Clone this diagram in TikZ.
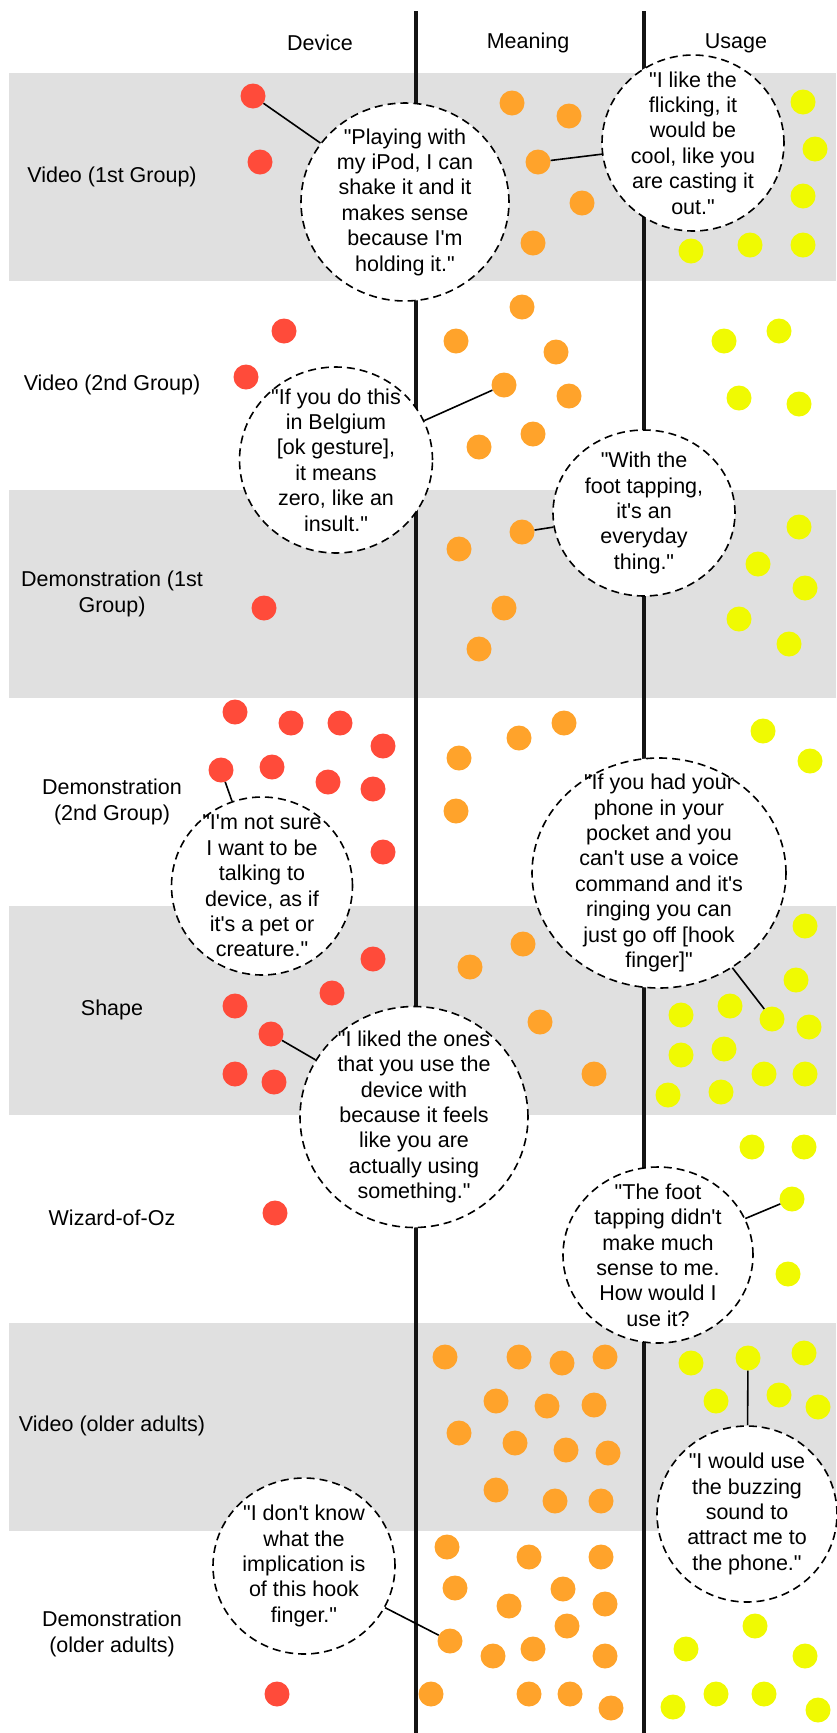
\documentclass[tikz,border=0pt]{standalone}
\usepackage{fontspec}
\usepackage{tikz}
\usetikzlibrary{shapes.geometric}
\newfontfamily\helv{Liberation Sans}
\definecolor{dotred}{HTML}{FF4B3A}
\definecolor{dotorange}{HTML}{FFA32B}
\definecolor{dotyellow}{HTML}{F0FA02}
\definecolor{bandgray}{HTML}{E0E0E0}
\tikzset{
    txt/.style={font=\helv\fontsize{21.5}{25.4}\selectfont, align=center, inner sep=0pt},
    answer/.style={circle, minimum size=25pt, inner sep=0pt, fill=#1},
    bubble/.style={ellipse, draw, fill=white, dash pattern=on 8pt off 5pt, line width=1.6pt, inner sep=0pt},
    link/.style={line width=1.6pt},
    divider/.style={line width=4.5pt, draw=black!92}
}
\newcommand{\quotebubble}[6] {
	\node[bubble, minimum width=#4pt, minimum height=#5pt] (#1) at (#2,#3) {};
	\node[txt] (#1-text) at (#1) {#6};
}

\begin{document}
\begin{tikzpicture}[x=1pt, y=-1pt]
		\useasboundingbox (0,0) rectangle (836,1733);

		% Shaded rows
		\foreach \i in {0,2,4,6}
			\fill[bandgray] (9,73+\i*208.3) rectangle (836,281.3+\i*208.3);

		% Column headings and rules
		\node[txt] (device) at (320,43) {Device};
		\node[txt] (meaning) at (528,43) {Meaning};
		\node[txt] (usage) at (736,43) {Usage};
		\draw[divider] (416,11) -- (416,1733);
		\draw[divider] (644,11) -- (644,1733);

		% Row labels
		\node[txt] (row1) at (112,177) {Video (1st Group)};
		\node[txt] (row2) at (112,385) {Video (2nd Group)};
		\node[txt] (row3) at (112,594) {Demonstration (1st\\Group)};
		\node[txt] (row4) at (112,802) {Demonstration\\(2nd Group)};
		\node[txt] (row5) at (112,1010) {Shape};
		\node[txt] (row6) at (112,1218) {Wizard-of-Oz};
		\node[txt] (row7) at (112,1426) {Video (older adults)};
		\node[txt] (row8) at (112,1634) {Demonstration\\(older adults)};

		% Row 1
		\foreach \x/\y [count=\n] in {253/96, 260/162}
			\node[answer=dotred] (red1-\n) at (\x,\y) {};
		\foreach \x/\y [count=\n] in {512/103, 569/116, 538/162, 582/203, 533/243}
			\node[answer=dotorange] (orange1-\n) at (\x,\y) {};
		\foreach \x/\y [count=\n] in {803/102, 815/149, 803/196, 691/251, 750/245, 803/245}
			\node[answer=dotyellow] (yellow1-\n) at (\x,\y) {};

		% Row 2
		\foreach \x/\y [count=\n] in {284/331, 246/377}
			\node[answer=dotred] (red2-\n) at (\x,\y) {};
		\foreach \x/\y [count=\n] in {522/307, 456/341, 556/352, 504/385, 569/396, 533/434, 479/447}
			\node[answer=dotorange] (orange2-\n) at (\x,\y) {};
		\foreach \x/\y [count=\n] in {724/341, 779/331, 739/398, 799/404}
			\node[answer=dotyellow] (yellow2-\n) at (\x,\y) {};

		% Row 3
		\foreach \x/\y [count=\n] in {264/608}
			\node[answer=dotred] (red3-\n) at (\x,\y) {};
		\foreach \x/\y [count=\n] in {522/532, 459/549, 504/608, 479/649}
			\node[answer=dotorange] (orange3-\n) at (\x,\y) {};
		\foreach \x/\y [count=\n] in {799/527, 758/564, 805/588, 739/619, 789/644}
			\node[answer=dotyellow] (yellow3-\n) at (\x,\y) {};

		% Row 4
		\foreach \x/\y [count=\n] in {235/712, 291/723, 340/723, 383/746, 221/770, 272/767, 328/782, 373/789, 383/852}
			\node[answer=dotred] (red4-\n) at (\x,\y) {};
		\foreach \x/\y [count=\n] in {459/758, 519/738, 564/723, 456/811}
			\node[answer=dotorange] (orange4-\n) at (\x,\y) {};
		\foreach \x/\y [count=\n] in {763/731, 810/761}
			\node[answer=dotyellow] (yellow4-\n) at (\x,\y) {};

		% Row 5
		\foreach \x/\y [count=\n] in {373/959, 332/993, 235/1006, 271/1034, 235/1074, 274/1082}
			\node[answer=dotred] (red5-\n) at (\x,\y) {};
		\foreach \x/\y [count=\n] in {523/944, 470/967, 540/1022, 594/1074}
			\node[answer=dotorange] (orange5-\n) at (\x,\y) {};
		\foreach \x/\y [count=\n] in {805/926, 796/980, 681/1015, 730/1006, 772/1019, 809/1027, 681/1055, 724/1049, 764/1074, 805/1074, 668/1095, 721/1092}
			\node[answer=dotyellow] (yellow5-\n) at (\x,\y) {};

		% Row 6
		\foreach \x/\y [count=\n] in {275/1213}
			\node[answer=dotred] (red6-\n) at (\x,\y) {};
		\foreach \x/\y [count=\n] in {752/1147, 804/1147, 792/1199, 788/1274}
			\node[answer=dotyellow] (yellow6-\n) at (\x,\y) {};

		% Row 7
		\foreach \x/\y [count=\n] in {445/1357, 519/1357, 562/1363, 605/1357, 496/1401, 547/1406, 594/1405, 459/1433, 515/1443, 566/1450, 608/1453, 496/1490, 555/1501, 601/1501}
			\node[answer=dotorange] (orange7-\n) at (\x,\y) {};
		\foreach \x/\y [count=\n] in {691/1363, 748/1358, 804/1353, 716/1401, 779/1395, 818/1407}
			\node[answer=dotyellow] (yellow7-\n) at (\x,\y) {};

		% Row 8
		\foreach \x/\y [count=\n] in {277/1694}
			\node[answer=dotred] (red8-\n) at (\x,\y) {};
		\foreach \x/\y [count=\n] in {447/1547, 529/1557, 601/1557, 455/1588, 563/1589, 509/1606, 605/1604, 567/1626, 450/1641, 493/1656, 533/1649, 605/1656, 431/1694, 529/1694, 570/1694, 611/1708}
			\node[answer=dotorange] (orange8-\n) at (\x,\y) {};
		\foreach \x/\y [count=\n] in {755/1626, 686/1649, 805/1656, 673/1707, 716/1694, 764/1694, 818/1710}
			\node[answer=dotyellow] (yellow8-\n) at (\x,\y) {};

		% Quotes
		\quotebubble{playing}{405}{202}{208}{198}{"Playing with\\my iPod, I can\\shake it and it\\makes sense\\because I'm\\holding it."}
		\draw[link] (red1-1) -- (playing);

		\quotebubble{flicking}{693}{143}{182}{176}{"I like the\\flicking, it\\would be\\cool, like you\\are casting it\\out."}
		\draw[link] (orange1-3) -- (flicking);

		\quotebubble{belgium}{336}{460}{193}{186}{"If you do this\\in Belgium\\{[ok gesture]},\\it means\\zero, like an\\insult."}
		\draw[link] (orange2-4) -- (belgium);

		\quotebubble{tapping}{644}{513}{182}{166}{"With the\\foot tapping,\\it's an\\everyday\\thing."}
		\draw[link] (orange3-1) -- (tapping);

		\quotebubble{notsure}{262}{886}{181}{178}{"I'm not sure\\I want to be\\talking to\\device, as if\\it's a pet or\\creature."}
		\draw[link] (red4-5) -- (notsure);

		\quotebubble{pocket}{659}{873}{254}{230}{"If you had your\\phone in your\\pocket and you\\can't use a voice\\command and it's\\ringing you can\\just go off [hook\\finger]"}
		\draw[link] (pocket) -- (yellow5-5);

		\quotebubble{liked}{414}{1117}{228}{221}{"I liked the ones\\that you use the\\device with\\because it feels\\like you are\\actually using\\something."}
		\draw[link] (red5-4) -- (liked);

		\quotebubble{howwould}{658}{1255}{190}{176}{"The foot\\tapping didn't\\make much\\sense to me.\\How would I\\use it?}
		\draw[link] (yellow6-3) -- (howwould);

		\quotebubble{buzzing}{747}{1514}{180}{176}{"I would use\\the buzzing\\sound to\\attract me to\\the phone."}
		\draw[link] (yellow7-2) -- (buzzing);

		\quotebubble{hookfinger}{304}{1566}{182}{176}{"I don't know\\what the\\implication is\\of this hook\\finger."}
		\draw[link] (hookfinger) -- (orange8-9);

	\end{tikzpicture}
\end{document}
